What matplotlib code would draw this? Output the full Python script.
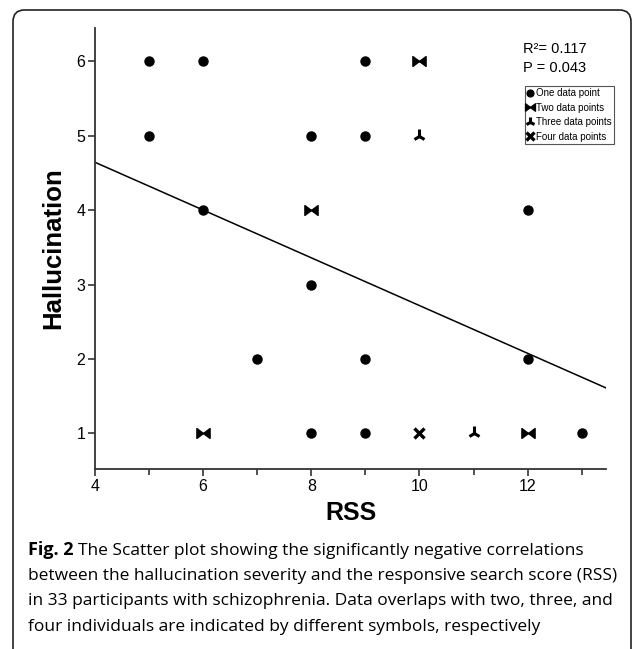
import numpy as np
import matplotlib.pyplot as plt
from matplotlib.path import Path
from matplotlib.patches import FancyBboxPatch

# data: each marker stands for n overlapping participants
one_x = [5, 6, 9, 5, 8, 9, 6, 12, 8, 7, 9, 12, 8, 9, 13]
one_y = [6, 6, 6, 5, 5, 5, 4, 4, 3, 2, 2, 2, 1, 1, 1]
two_x = [10, 8, 6, 12]
two_y = [6, 4, 1, 1]
three_x = [10, 11]
three_y = [5, 1]
four_x = [10]
four_y = [1]

stats_text = ["R²= 0.117", "P = 0.043"]
legend_labels = ["One data point", "Two data points",
                 "Three data points", "Four data points"]
caption_bold = "Fig. 2"
caption_lines = [
    "The Scatter plot showing the significantly negative correlations",
    "between the hallucination severity and the responsive search score (RSS)",
    "in 33 participants with schizophrenia. Data overlaps with two, three, and",
    "four individuals are indicated by different symbols, respectively",
]

# regression on all 33 participants
xs = np.array(one_x + two_x * 2 + three_x * 3 + four_x * 4, dtype=float)
ys = np.array(one_y + two_y * 2 + three_y * 3 + four_y * 4, dtype=float)
slope, intercept = np.polyfit(xs, ys, 1)

bowtie = Path([(-1, 0.75), (-1, -0.75), (1, 0.75), (1, -0.75), (-1, 0.75)],
              [Path.MOVETO, Path.LINETO, Path.LINETO, Path.LINETO, Path.CLOSEPOLY])

plt.rcParams['font.family'] = ['Liberation Sans', 'DejaVu Sans']
W, H = 633, 649
fig = plt.figure(figsize=(W / 100, H / 100), dpi=100)

# rounded frame around the figure (bottom runs off the page)
fig.patches.append(FancyBboxPatch(
    (13 / W, -0.05), (631 - 13) / W, 1.05 - 10 / H,
    boxstyle="round,pad=0,rounding_size=0.018", transform=fig.transFigure,
    fill=False, edgecolor='#222222', linewidth=1.2))

ax = fig.add_axes([95 / W, 1 - 469 / H, (606 - 95) / W, (469 - 28) / H])
xlim = (4, 13.45)
ax.set_xlim(*xlim)
ax.set_ylim(0.52, 6.45)

ax.plot(one_x, one_y, 'o', ms=6.5, color='black', ls='none', label=legend_labels[0])
ax.plot(two_x, two_y, marker=bowtie, ms=9.5, color='black', ls='none', label=legend_labels[1])
ax.plot(three_x, three_y, marker='2', ms=9.5, mew=2.2, color='black', ls='none', label=legend_labels[2])
ax.plot(four_x, four_y, marker='x', ms=7, mew=2.4, color='black', ls='none', label=legend_labels[3])

lx = np.array(xlim)
ax.plot(lx, slope * lx + intercept, color='black', lw=1.1)

for s in ['top', 'right']:
    ax.spines[s].set_visible(False)
for s in ['left', 'bottom']:
    ax.spines[s].set_linewidth(1.3)
    ax.spines[s].set_color('#333333')

ax.set_xticks([4, 6, 8, 10, 12])
ax.set_xticks([5, 7, 9, 11, 13], minor=True)
ax.set_yticks([1, 2, 3, 4, 5, 6])
ax.tick_params(axis='both', which='major', length=5, width=1.2, color='#333333',
               labelsize=11.5, pad=2)
ax.tick_params(axis='x', which='minor', length=4, width=1.2, color='#333333')

ax.set_xlabel("RSS", fontsize=18, fontweight='bold', labelpad=5)
ax.set_ylabel("Hallucination", fontsize=18.5, fontweight='bold', labelpad=8)

fig.text(523 / W, 1 - 49 / H, stats_text[0], fontsize=10.5, va='center')
fig.text(523 / W, 1 - 68 / H, stats_text[1], fontsize=10.5, va='center')

leg = ax.legend(loc='upper left', bbox_to_anchor=(525 / W, 1 - 86 / H),
                bbox_transform=fig.transFigure, fontsize=7, frameon=True,
                fancybox=False, edgecolor='#555555', framealpha=1,
                handlelength=0.6, handletextpad=0.3, borderpad=0.25,
                labelspacing=0.45, borderaxespad=0, markerscale=0.75)
leg.get_frame().set_linewidth(0.8)

# caption
cap_font = 'Open Sans'
cap_size = 12.5
cap_left = 28
line_y = [550, 576, 601, 627]
t0 = fig.text(cap_left / W, 1 - line_y[0] / H, caption_bold, fontsize=cap_size + 0.5,
              fontweight='bold', family=cap_font, va='center')
ax.annotate(caption_lines[0], xy=(1, 0), xycoords=t0, xytext=(3.5, 0),
            textcoords='offset points', va='bottom', ha='left',
            fontsize=cap_size, family=cap_font, annotation_clip=False)
for yy, line in zip(line_y[1:], caption_lines[1:]):
    fig.text(cap_left / W, 1 - yy / H, line, fontsize=cap_size, family=cap_font,
             va='center')

fig.savefig("out.png", dpi=100)
